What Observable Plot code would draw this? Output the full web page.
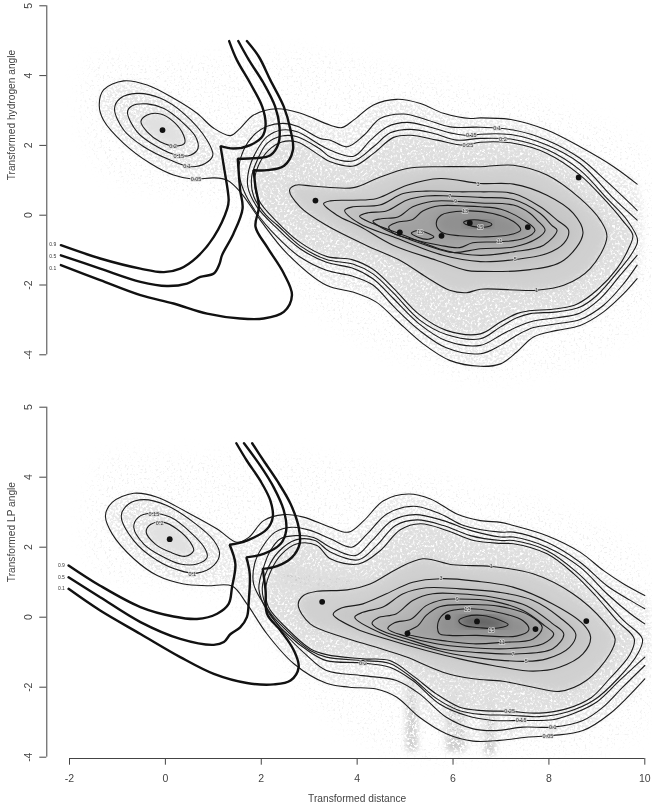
<!DOCTYPE html>
<html><head><meta charset="utf-8">
<script src="https://cdn.jsdelivr.net/npm/d3@7"></script>
<script src="https://cdn.jsdelivr.net/npm/@observablehq/plot@0.6"></script>
<style>
html,body{margin:0;padding:0;background:#fff}
#root{position:relative;width:652px;height:807px;overflow:hidden;opacity:.999}
#root svg{display:block;position:absolute;left:0;background:none}
</style></head><body>
<svg width="0" height="0" style="position:absolute">
<defs>
<filter id="haze" x="-5%" y="-5%" width="110%" height="110%" color-interpolation-filters="sRGB">
<feGaussianBlur in="SourceGraphic" stdDeviation="8" result="b"/>
<feTurbulence type="fractalNoise" baseFrequency="0.45" numOctaves="3" seed="4" result="n"/>
<feColorMatrix in="n" type="matrix" values="0 0 0 0 0  0 0 0 0 0  0 0 0 0 0  5 0 0 0 -2.9" result="m"/>
<feComposite in="b" in2="m" operator="in"/>
</filter>
<filter id="speckOuter" x="-5%" y="-5%" width="110%" height="110%" color-interpolation-filters="sRGB">
<feGaussianBlur in="SourceGraphic" stdDeviation="3" result="b"/>
<feTurbulence type="fractalNoise" baseFrequency="0.4" numOctaves="3" seed="7" result="n"/>
<feColorMatrix in="n" type="matrix" values="0 0 0 0 0  0 0 0 0 0  0 0 0 0 0  5 0 0 0 -2.0" result="m"/>
<feComposite in="b" in2="m" operator="in"/>
</filter>
<filter id="speckInner" x="-5%" y="-5%" width="110%" height="110%" color-interpolation-filters="sRGB">
<feGaussianBlur in="SourceGraphic" stdDeviation="3" result="b"/>
<feTurbulence type="fractalNoise" baseFrequency="0.4" numOctaves="3" seed="9" result="n"/>
<feColorMatrix in="n" type="matrix" values="0 0 0 0 0  0 0 0 0 0  0 0 0 0 0  6 0 0 0 -2.1" result="m"/>
<feComposite in="b" in2="m" operator="in"/>
</filter>
<filter id="soft" x="-8%" y="-8%" width="116%" height="116%"><feGaussianBlur stdDeviation="4"/></filter>
</defs></svg>
<div id="root"></div>
<script>
const xTicks=[-2,0,2,4,6,8,10];
const yTicks=[6,4,2,0,-2,-4];
const yTickLabels=["5","4","2","0","-2","-4"];

// ---------- upper panel
const topA=[[9.84,.89],[9.35,1.39],[8.65,1.96],[7.96,2.44],[7.26,2.73],[6.57,2.79],[6.36,2.77],[5.80,2.92],[5.32,3.20],[4.83,3.32],[4.34,3.16],[3.93,2.73],[3.68,2.51],[3.44,2.58],[2.82,2.92],[2.33,3.05],[1.84,2.87],[1.56,2.49],[1.36,2.28],[1.01,2.49],[.66,2.92],[.17,3.35],[-.38,3.73],[-.87,3.85],[-1.29,3.59],[-1.38,3.15],[-1.29,2.72],[-.87,2.06],[-.31,1.48],[.17,1.15],[.59,1.03],[1.01,1.07],[1.29,1.00],[1.56,.67],[1.98,-.14],[2.54,-1.10],[3.36,-2.01],[3.91,-2.20],[4.40,-2.49],[4.82,-3.01],[5.37,-3.68],[5.93,-4.16],[6.57,-4.33],[6.99,-4.26],[7.33,-3.92],[7.68,-3.49],[8.17,-3.30],[8.65,-3.16],[9.14,-2.77],[9.56,-2.25],[9.84,-1.82]];
const topB=[[9.84,.14],[9.21,.96],[8.65,1.63],[7.96,2.15],[7.26,2.44],[6.57,2.52],[5.94,2.53],[5.46,2.73],[4.97,2.90],[4.48,2.77],[4.14,2.29],[3.79,1.96],[3.44,2.15],[3.23,2.20],[2.75,2.55],[2.47,2.63],[2.12,2.55],[1.84,2.29],[1.63,1.86],[1.53,1.29],[1.63,.72],[1.91,.05],[2.33,-.62],[2.81,-1.20],[3.36,-1.58],[3.91,-1.75],[4.33,-2.00],[4.75,-2.60],[5.30,-3.30],[5.86,-3.80],[6.57,-3.97],[6.99,-3.73],[7.33,-3.44],[7.68,-3.22],[8.17,-3.11],[8.65,-2.99],[9.14,-2.58],[9.56,-1.96],[9.84,-1.43]];
const topC=[[9.84,-.14],[9.35,.48],[8.65,1.48],[7.96,2.01],[7.26,2.30],[6.57,2.32],[6.36,2.28],[6.01,2.34],[5.53,2.52],[5.04,2.66],[4.62,2.53],[4.28,2.15],[3.93,1.69],[3.44,1.86],[3.23,2.01],[2.75,2.39],[2.43,2.44],[2.12,2.25],[1.91,1.86],[1.74,1.29],[1.72,.81],[1.91,.24],[2.33,-.38],[2.81,-.96],[3.36,-1.35],[3.91,-1.52],[4.33,-1.82],[4.75,-2.38],[5.30,-3.12],[5.86,-3.60],[6.57,-3.73],[6.99,-3.44],[7.33,-3.20],[7.68,-3.03],[8.17,-2.94],[8.65,-2.80],[9.07,-2.39],[9.49,-1.72],[9.84,-1.15]];
const topD=[[3.44,1.67],[3.93,1.56],[4.34,1.96],[4.69,2.36],[5.11,2.46],[5.60,2.34],[6.08,2.15],[6.57,2.20],[7.26,2.17],[7.96,1.88],[8.65,1.29],[9.21,.48],[9.63,-.14],[9.85,-.72],[9.73,-1.10],[9.49,-1.53],[9.00,-2.30],[8.65,-2.63],[8.17,-2.77],[7.61,-2.82],[7.33,-2.94],[6.99,-3.20],[6.57,-3.54],[5.86,-3.42],[5.30,-3.00],[4.75,-2.22],[4.33,-1.68],[3.91,-1.40],[3.36,-1.27],[2.81,-.88],[2.33,-.28],[2.10,0],[1.84,.55],[1.80,1.10],[1.93,1.62],[2.12,2.06],[2.43,2.27],[2.75,2.25],[3.23,1.89]];
const topE=[[3.44,1.53],[3.93,1.41],[4.34,1.77],[4.76,2.23],[5.11,2.29],[5.67,2.15],[6.22,2.01],[6.57,2.09],[7.26,2.06],[7.96,1.77],[8.65,1.15],[9.14,.48],[9.53,-.14],[9.75,-.57],[9.66,-.96],[9.42,-1.53],[9.00,-2.15],[8.58,-2.55],[8.17,-2.68],[7.54,-2.75],[7.33,-2.82],[6.99,-3.06],[6.57,-3.40],[5.86,-3.30],[5.30,-2.85],[4.75,-2.08],[4.33,-1.55],[3.91,-1.28],[3.36,-1.18],[2.81,-.78],[2.33,-.19],[1.95,.43],[1.86,1.00],[1.96,1.48],[2.15,1.86],[2.43,2.10],[2.75,2.10],[3.23,1.70]];
const topRing1=[[-1.06,3.06],[-.94,3.35],[-.59,3.49],[-.10,3.35],[.38,2.92],[.87,2.15],[.99,1.72],[.83,1.48],[.52,1.39],[.10,1.58],[-.45,1.96],[-.87,2.44]];
const topRing2=[[-.79,2.96],[-.70,3.13],[-.38,3.19],[-.03,3.06],[.31,2.72],[.63,2.25],[.68,1.91],[.52,1.72],[.24,1.72],[-.17,1.96],[-.59,2.39]];
const topRing3=[[-.51,2.68],[-.38,2.87],[-.10,2.90],[.17,2.68],[.38,2.29],[.40,2.06],[.21,1.98],[-.10,2.10],[-.38,2.39]];
const topL1=[[2.59,.72],[2.71,.86],[3.09,.83],[3.93,.79],[4.41,1.05],[5.04,1.34],[5.73,1.39],[6.57,1.39],[7.26,1.43],[7.96,1.15],[8.65,.48],[9.07,-.14],[9.21,-.62],[8.86,-1.53],[8.31,-2.01],[7.74,-2.15],[6.57,-2.12],[6.28,-2.22],[5.93,-2.15],[5.44,-1.77],[4.89,-1.29],[4.26,-.91],[3.36,-.29],[2.81,.24]];
const topL3=[[3.30,.33],[3.44,.41],[3.93,.43],[4.41,.48],[5.04,.86],[5.73,1.05],[6.57,.91],[7.26,.89],[7.96,.57],[8.51,.05],[8.71,-.52],[8.31,-1.29],[7.61,-1.56],[6.57,-1.61],[6.28,-1.58],[5.65,-1.29],[4.75,-.86],[4.07,-.33],[3.58,0]];
const topL5=[[3.74,.14],[3.91,.24],[4.47,.29],[4.96,.62],[5.44,.69],[6.14,.67],[6.57,.67],[7.26,.62],[7.82,.24],[8.17,-.14],[8.41,-.43],[8.31,-.81],[7.96,-1.10],[7.30,-1.27],[6.57,-1.33],[5.79,-1.15],[4.75,-.62],[4.05,-.24]];
const topL7=[[4.05,-.03],[4.23,.07],[4.61,.12],[5.03,.43],[5.44,.55],[5.93,.55],[6.57,.51],[7.26,.45],[7.82,.05],[8.06,-.29],[8.17,-.43],[7.89,-.86],[7.26,-1.05],[6.57,-1.15],[5.86,-1.02],[4.89,-.53],[4.33,-.24]];
const topL9=[[4.33,-.17],[4.50,-.10],[4.85,-.05],[5.16,.24],[5.58,.40],[6.05,.40],[6.57,.35],[7.26,.29],[7.61,.05],[7.75,-.14],[7.92,-.43],[7.75,-.67],[7.26,-.91],[6.57,-.96],[6.00,-1.07],[5.44,-.86],[4.89,-.59],[4.54,-.38]];
const topL11=[[4.66,-.33],[4.82,-.21],[5.16,-.12],[5.37,.12],[5.72,.27],[6.28,.26],[6.57,.24],[7.00,.17],[7.47,-.14],[7.71,-.43],[7.47,-.67],[6.99,-.76],[6.41,-.79],[6.14,-.93],[5.72,-.86],[5.09,-.67],[4.75,-.51]];
const topL13=[[5.65,-.24],[5.75,0],[6.24,.12],[6.83,.05],[7.32,-.24],[7.41,-.43],[7.25,-.54],[6.69,-.62],[6.14,-.59],[5.75,-.48]];
const topL13b=[[5.13,-.51],[5.27,-.44],[5.51,-.54],[5.60,-.62],[5.48,-.69],[5.27,-.63]];
const topL15=[[6.22,-.21],[6.35,-.14],[6.62,-.16],[6.81,-.26],[6.69,-.34],[6.41,-.32]];
const topThick1=[[-2.18,-.86],[-1.36,-1.24],[-.52,-1.53],[-.03,-1.63],[.31,-1.53],[.66,-1.20],[1.01,-.62],[1.29,.19],[1.32,.43],[1.22,1.39],[1.15,1.98],[1.15,1.98],[1.42,1.91],[1.77,2.01],[2.02,2.25],[2.09,2.58],[2.02,3.11],[1.77,3.78],[1.49,4.45],[1.33,4.99]];
const topThick2=[[-2.18,-1.15],[-1.36,-1.53],[-.52,-1.91],[.03,-2.03],[.45,-1.96],[.73,-1.77],[1.01,-1.67],[1.13,-1.39],[1.18,-1.15],[1.42,-.53],[1.61,.19],[1.56,.72],[1.51,1.62],[1.51,1.62],[1.84,1.63],[2.19,1.72],[2.36,2.06],[2.38,2.53],[2.29,3.11],[2.05,3.78],[1.74,4.45],[1.52,4.99]];
const topThick3=[[-2.18,-1.43],[-1.36,-1.86],[-.52,-2.29],[.17,-2.53],[.87,-2.82],[1.56,-2.96],[2.05,-2.96],[2.47,-2.77],[2.64,-2.29],[2.47,-1.67],[2.12,-.91],[1.88,-.33],[1.95,.24],[1.88,.81],[1.84,1.29],[1.84,1.29],[2.12,1.29],[2.47,1.41],[2.66,1.86],[2.61,2.44],[2.47,3.11],[2.19,3.87],[1.95,4.54],[1.70,4.99]];
const topModesX=[-.06,3.13,8.62,7.56,6.35,5.76,4.89];
const topModesY=[2.44,.42,1.08,-.34,-.22,-.59,-.49];
const topLabelText=["0.2","0.15","0.1","0.05","0.1","0.15","0.2","0.25","3","7","9","13","15","13","11","5","1"];
const topLabelX=[.16,.28,.45,.64,6.92,6.38,7.04,6.31,6.52,5.93,6.05,6.25,6.57,5.31,6.97,7.30,7.74];
const topLabelY=[1.98,1.69,1.41,1.03,2.48,2.28,2.17,2.01,.89,.55,.40,.12,-.34,-.50,-.76,-1.27,-2.15];
const topEndText=["0.9","0.5","0.1"];
const topEndX=[-2.35,-2.35,-2.35];
const topEndY=[-.84,-1.17,-1.51];
const topHaze=[[-1.6,4.4],[.5,4.5],[3,4.7],[6,3.9],[8.5,3],[10,1.8],[10,-3],[7,-4.7],[5,-4.1],[3,-2.6],[2,-.6],[1,.3],[-1.4,1.4]];

// ---------- lower panel
const lowA=[[10,.62],[9.56,.95],[9.14,1.33],[8.65,1.86],[7.96,2.33],[7.26,2.62],[6.99,2.71],[6.57,2.76],[6.08,2.95],[5.53,3.38],[5.07,3.52],[4.55,3.33],[4.14,2.76],[3.82,2.43],[3.44,2.57],[2.88,2.86],[2.47,2.93],[2.05,2.76],[1.74,2.28],[1.49,2.14],[1.08,2.52],[.45,3.00],[-.17,3.43],[-.66,3.54],[-1.11,3.28],[-1.25,2.90],[-1.11,2.38],[-.66,1.67],[-.17,1.19],[.38,.95],[.87,.90],[1.39,.89],[1.70,.38],[2.12,-.48],[2.68,-1.33],[3.36,-1.89],[3.84,-2.00],[4.40,-2.05],[4.82,-2.28],[5.30,-2.86],[5.86,-3.33],[6.42,-3.54],[6.97,-3.52],[7.53,-3.43],[8.08,-3.38],[8.71,-3.24],[9.27,-2.76],[10,-1.76]];
const lowB=[[10,.24],[9.70,.48],[9.21,.90],[8.65,1.57],[7.96,2.14],[7.26,2.43],[6.99,2.43],[6.22,2.62],[5.74,2.95],[5.18,3.17],[4.62,2.95],[4.21,2.38],[3.89,2.00],[3.44,2.24],[3.02,2.48],[2.64,2.57],[2.29,2.43],[2.02,2.00],[1.86,1.52],[1.84,.95],[2.05,.38],[2.47,-.43],[2.95,-1.09],[3.36,-1.52],[4.12,-1.67],[4.82,-1.81],[5.30,-2.19],[5.86,-2.86],[6.42,-3.19],[6.90,-3.24],[7.46,-3.14],[8.08,-3.14],[8.71,-2.95],[9.13,-2.57],[9.54,-2.00],[10,-1.38]];
const lowC=[[10,-.19],[9.70,.10],[9.21,.67],[8.65,1.43],[7.96,2.00],[7.26,2.29],[6.99,2.29],[6.36,2.48],[5.80,2.76],[5.21,2.93],[4.73,2.76],[4.31,2.19],[3.96,1.76],[3.44,2.00],[3.09,2.28],[2.71,2.33],[2.40,2.24],[2.19,1.90],[2.05,1.43],[1.95,.81],[2.12,.19],[2.54,-.48],[3.02,-1.00],[3.36,-1.24],[4.12,-1.31],[4.68,-1.43],[5.16,-1.81],[5.72,-2.48],[6.28,-2.81],[6.83,-2.95],[7.42,-2.95],[8.08,-2.93],[8.50,-2.76],[8.99,-2.43],[9.47,-1.81],[10,-1.14]];
const lowD=[[3.44,1.86],[4.03,1.64],[4.41,2.05],[4.80,2.62],[5.25,2.78],[5.80,2.62],[6.36,2.33],[6.99,2.19],[7.26,2.19],[7.96,1.90],[8.58,1.29],[9.07,.62],[9.56,-.10],[9.95,-.62],[9.85,-1.05],[9.42,-1.78],[8.95,-2.36],[8.4,-2.70],[7.80,-2.84],[7.18,-2.80],[6.62,-2.78],[6.14,-2.67],[5.65,-2.32],[5.16,-1.75],[4.68,-1.32],[4.12,-1.24],[3.36,-1.14],[3.02,-.95],[2.54,-.40],[2.13,.24],[2.02,.81],[2.14,1.40],[2.36,1.87],[2.72,2.21],[3.12,2.19]];
const lowE=[[3.44,1.67],[4.03,1.52],[4.48,1.90],[4.90,2.50],[5.32,2.67],[5.87,2.48],[6.43,2.19],[6.99,2.11],[7.26,2.10],[7.96,1.81],[8.52,1.24],[8.97,.62],[9.42,-.10],[9.78,-.62],[9.68,-1.09],[9.25,-1.78],[8.88,-2.30],[8.36,-2.62],[7.80,-2.74],[7.18,-2.69],[6.62,-2.67],[6.14,-2.57],[5.65,-2.19],[5.16,-1.67],[4.68,-1.24],[4.12,-1.19],[3.36,-1.07],[3.02,-.90],[2.54,-.33],[2.15,.29],[2.09,.81],[2.22,1.38],[2.43,1.81],[2.75,2.10],[3.16,2.05]];
const lowRing1=[[-.92,2.90],[-.76,3.24],[-.45,3.36],[.03,3.19],[.59,2.71],[1.01,2.19],[1.13,1.81],[1.01,1.48],[.66,1.26],[.31,1.33],[-.17,1.62],[-.66,2.19]];
const lowRing2=[[-.66,2.57],[-.56,2.86],[-.31,2.97],[.10,2.86],[.52,2.43],[.83,1.95],[.87,1.71],[.66,1.52],[.31,1.52],[-.10,1.76],[-.45,2.09]];
const lowRing3=[[-.40,2.43],[-.31,2.65],[-.03,2.71],[.24,2.52],[.52,2.14],[.59,1.90],[.42,1.74],[.10,1.86],[-.21,2.09]];
const lowL1=[[2.77,.36],[2.88,.62],[3.16,.74],[3.79,.78],[4.27,.95],[4.83,1.38],[5.37,1.67],[6.00,1.50],[6.80,1.45],[7.67,1.24],[8.50,.67],[9.13,-.10],[9.38,-.62],[9.27,-1.05],[8.78,-1.81],[8.22,-2.12],[7.67,-2.00],[7.04,-1.83],[6.42,-1.76],[5.79,-1.57],[5.03,-1.14],[4.40,-.86],[3.71,-.57],[3.02,-.19]];
const lowL3=[[3.50,.08],[3.67,.26],[4.12,.38],[4.61,.67],[5.16,1.00],[5.75,1.10],[6.48,1.03],[7.25,.86],[8.08,.38],[8.71,-.19],[8.87,-.57],[8.71,-1.05],[8.22,-1.43],[7.67,-1.54],[6.83,-1.38],[6.14,-1.19],[5.44,-.95],[4.61,-.62],[3.98,-.33]];
const lowL5=[[3.95,0],[4.12,.14],[4.54,.29],[4.96,.67],[5.44,.84],[6.14,.81],[6.97,.71],[7.67,.48],[8.22,0],[8.56,-.48],[8.43,-.86],[7.95,-1.19],[7.53,-1.26],[6.69,-1.19],[6.00,-1.05],[5.30,-.81],[4.54,-.48]];
const lowL7=[[4.31,-.17],[4.43,-.02],[4.82,.10],[5.16,.48],[5.58,.67],[6.09,.67],[6.83,.57],[7.53,.33],[8.08,-.19],[8.31,-.48],[8.08,-.90],[7.25,-1.05],[6.42,-1.00],[5.72,-.90],[5.03,-.62],[4.47,-.36]];
const lowL9=[[4.64,-.33],[4.78,-.16],[5.13,-.05],[5.44,.33],[5.79,.50],[6.09,.52],[6.83,.46],[7.46,.19],[7.91,-.24],[8.10,-.48],[7.88,-.76],[7.11,-.90],[6.28,-.86],[5.65,-.76],[5.03,-.55]];
const lowL11=[[5.01,-.45],[5.27,-.24],[5.44,.05],[5.72,.30],[6.28,.36],[6.97,.31],[7.60,.05],[7.86,-.29],[7.67,-.62],[7.02,-.72],[6.42,-.76],[5.79,-.67],[5.23,-.55]];
const lowL13=[[5.71,-.46],[5.69,-.14],[5.86,.14],[6.30,.24],[6.83,.17],[7.46,-.10],[7.58,-.36],[7.32,-.54],[6.49,-.52],[5.93,-.52]];
const lowL15=[[6.12,-.10],[6.28,.02],[6.62,.05],[6.97,-.08],[7.15,-.21],[6.94,-.31],[6.56,-.30],[6.24,-.24]];
const lowThick1=[[-2.02,1.48],[-1.36,.90],[-.52,.29],[.17,.02],[.66,-.05],[1.08,.10],[1.32,.38],[1.39,.86],[1.46,1.52],[1.34,2.07],[1.34,2.07],[1.70,2.19],[2.12,2.52],[2.24,2.86],[2.19,3.33],[1.98,3.90],[1.70,4.47],[1.48,4.97]];
const lowThick2=[[-2.02,1.14],[-1.36,.57],[-.52,-.14],[.31,-.62],[1.01,-.79],[1.22,-.71],[1.36,-.48],[1.56,-.29],[1.70,0],[1.74,.48],[1.76,1.24],[1.69,1.71],[1.69,1.71],[2.05,1.81],[2.40,2.09],[2.52,2.48],[2.47,3.05],[2.26,3.71],[1.98,4.33],[1.64,4.97]];
const lowThick3=[[-2.02,.81],[-1.36,.19],[-.52,-.48],[.31,-1.14],[1.01,-1.62],[1.70,-1.88],[2.26,-1.92],[2.61,-1.81],[2.78,-1.43],[2.68,-.95],[2.40,-.38],[2.12,.10],[2.09,.76],[2.03,1.38],[2.03,1.38],[2.33,1.46],[2.64,1.71],[2.80,2.09],[2.78,2.57],[2.61,3.24],[2.33,3.90],[2.05,4.47],[1.81,4.97]];
const lowModesX=[.09,3.27,5.89,6.50,7.72,5.05,8.78];
const lowModesY=[2.23,.44,0,-.12,-.34,-.46,-.11];
const lowLabelText=["0.15","0.2","0.1","1","3","9","13","15","11","7","5","0.2","0.25","0.15","0.1","0.05"];
const lowLabelX=[-.24,-.12,.56,6.80,5.75,6.09,6.30,6.80,7.02,7.25,7.53,4.12,7.18,7.42,8.08,7.98];
const lowLabelY=[2.94,2.69,1.24,1.45,1.10,.52,.24,-.36,-.72,-1.05,-1.26,-1.31,-2.69,-2.95,-3.14,-3.40];
const lowEndText=["0.9","0.5","0.1"];
const lowEndX=[-2.17,-2.17,-2.17];
const lowEndY=[1.49,1.15,.81];
const lowHaze=[[-1.3,4.5],[.5,4.6],[3,4.6],[6,3.9],[8.5,3],[10,1.6],[10,-3.2],[7,-4],[5,-4],[3.2,-2.6],[2.2,-.9],[1,.6],[-1.5,1.4]];
const lowBand=[[2.4,1.35],[3.3,1.25],[4.4,.95],[4.4,.55],[3.3,.8],[2.4,.85]];
const streakX1=[5.03,5.86,6.66];
const streakX2=[5.27,6.28,6.90];
const streakY1=[-1.7,-2.1,-2.2];
const streakY2=[-3.85,-3.85,-3.95];

const hx=d=>d[0], hy=d=>d[1];
function withFilter(id){return function(i,s,v,d,c,next){const g=next(i,s,v,d,c);g.style.filter=`url(#${id})`;return g;};}
function thin(a,closed){return Plot.line(a,{x:hx,y:hy,stroke:"#1c1c1c",strokeWidth:1.1,curve:closed?"catmull-rom-closed":"catmull-rom"});}
function thick(a){return Plot.line(a,{x:hx,y:hy,stroke:"#111",strokeWidth:2.4,curve:"catmull-rom",strokeLinejoin:"miter"});}
function fill(a,color,f){return Plot.line(a,{x:hx,y:hy,fill:color,stroke:"none",curve:"catmull-rom-closed",render:withFilter(f)});}

function panel(o){
  const tickIdx=new Map(yTicks.map((t,i)=>[t,yTickLabels[i]]));
  const marks=[
    fill(o.haze,"#eeeeee","haze"),
    ...(o.extra||[]),
    fill(o.a,"#e8e8e8","speckOuter"),
    fill(o.e,"#dedede","speckInner"),
    fill(o.ring1,"#e4e4e4","speckOuter"),
    fill(o.ring3,"#e0e0e0","soft"),
    fill(o.l[0],"#d0d0d0","soft"),
    fill(o.l[1],"#c8c8c8","soft"),
    fill(o.l[2],"#c0c0c0","soft"),
    fill(o.l[3],"#b6b6b6","soft"),
    fill(o.l[4],"#acacac","soft"),
    fill(o.l[5],"#a0a0a0","soft"),
    fill(o.l[6],"#909090","soft"),
    fill(o.lx[o.lx.length-1],"#606060","soft"),
    thin(o.a,false),thin(o.b,false),thin(o.c,false),thin(o.d,true),thin(o.e,true),
    thin(o.ring1,true),thin(o.ring2,true),thin(o.ring3,true),
    ...o.l.map(a=>thin(a,true)),
    ...(o.lx||[]).map(a=>thin(a,true)),
    ...o.t.map(thick),
    Plot.dot(d3.range(o.mx.length),{x:i=>o.mx[i],y:i=>o.my[i],r:2.9,fill:"#111",stroke:"none"}),
    Plot.text(d3.range(o.lt.length),{x:i=>o.lx2[i],y:i=>o.ly[i],text:i=>o.lt[i],fontSize:5.5,fill:"#333",stroke:"#ddd",strokeWidth:1.5,strokeOpacity:.85}),
    Plot.text(d3.range(o.et.length),{x:i=>o.ex[i],y:i=>o.ey[i],text:i=>o.et[i],fontSize:5,fill:"#333"}),
    Plot.ruleX([-2],{y1:-4,y2:6,dx:-22.7,stroke:"#444"}),
    Plot.axisY(yTicks,{anchor:"left",dx:-22.7,tickSize:7,tickPadding:8,tickRotate:-90,textAnchor:"middle",tickFormat:d=>tickIdx.get(d),fontSize:10.5,fill:"#444",stroke:"#444",label:null}),
    Plot.text([o.ylabel],{frameAnchor:"left",dx:-58,rotate:-90,fontSize:10.2,fill:"#444"})
  ];
  if(o.showX){
    marks.push(
      Plot.ruleY([-4],{x1:-2,x2:10,dy:1.3,stroke:"#444"}),
      Plot.axisX(xTicks,{anchor:"bottom",dy:1.3,tickSize:6.7,tickPadding:9,tickFormat:d=>String(d),fontSize:10.5,fill:"#444",stroke:"#444",label:null}),
      Plot.text(["Transformed distance"],{frameAnchor:"bottom",dy:41.3,lineAnchor:"middle",fontSize:10.2,fill:"#444"})
    );
  }
  const p=Plot.plot({width:652,height:o.h,marginLeft:69,marginRight:7.7,marginTop:o.mt,marginBottom:o.mb,
    x:{domain:[-2,10],axis:null},y:{domain:[-4,6],axis:null},style:{fontFamily:"'Liberation Sans',Arial,sans-serif",background:"none",overflow:"visible"},marks});
  p.style.top=o.top+"px";
  return p;
}
const root=document.getElementById("root");
root.append(panel({top:0,h:400,mt:5.3,mb:45.7,ylabel:"Transformed hydrogen angle",haze:topHaze,a:topA,b:topB,c:topC,d:topD,e:topE,ring1:topRing1,ring2:topRing2,ring3:topRing3,
  l:[topL1,topL3,topL5,topL7,topL9,topL11,topL13],lx:[topL13b,topL15],t:[topThick1,topThick2,topThick3],mx:topModesX,my:topModesY,lt:topLabelText,lx2:topLabelX,ly:topLabelY,et:topEndText,ex:topEndX,ey:topEndY}));
root.append(panel({top:400,h:407,mt:6.7,mb:50.3,ylabel:"Transformed LP angle",showX:true,haze:lowHaze,a:lowA,b:lowB,c:lowC,d:lowD,e:lowE,ring1:lowRing1,ring2:lowRing2,ring3:lowRing3,
  extra:[Plot.rect(d3.range(3),{x1:i=>streakX1[i],x2:i=>streakX2[i],y1:i=>streakY1[i],y2:i=>streakY2[i],fill:"#cccccc",render:withFilter("speckInner")}),fill(lowBand,"#cccccc","soft")],
  l:[lowL1,lowL3,lowL5,lowL7,lowL9,lowL11,lowL13],lx:[lowL15],t:[lowThick1,lowThick2,lowThick3],mx:lowModesX,my:lowModesY,lt:lowLabelText,lx2:lowLabelX,ly:lowLabelY,et:lowEndText,ex:lowEndX,ey:lowEndY}));
</script>
</body></html>
